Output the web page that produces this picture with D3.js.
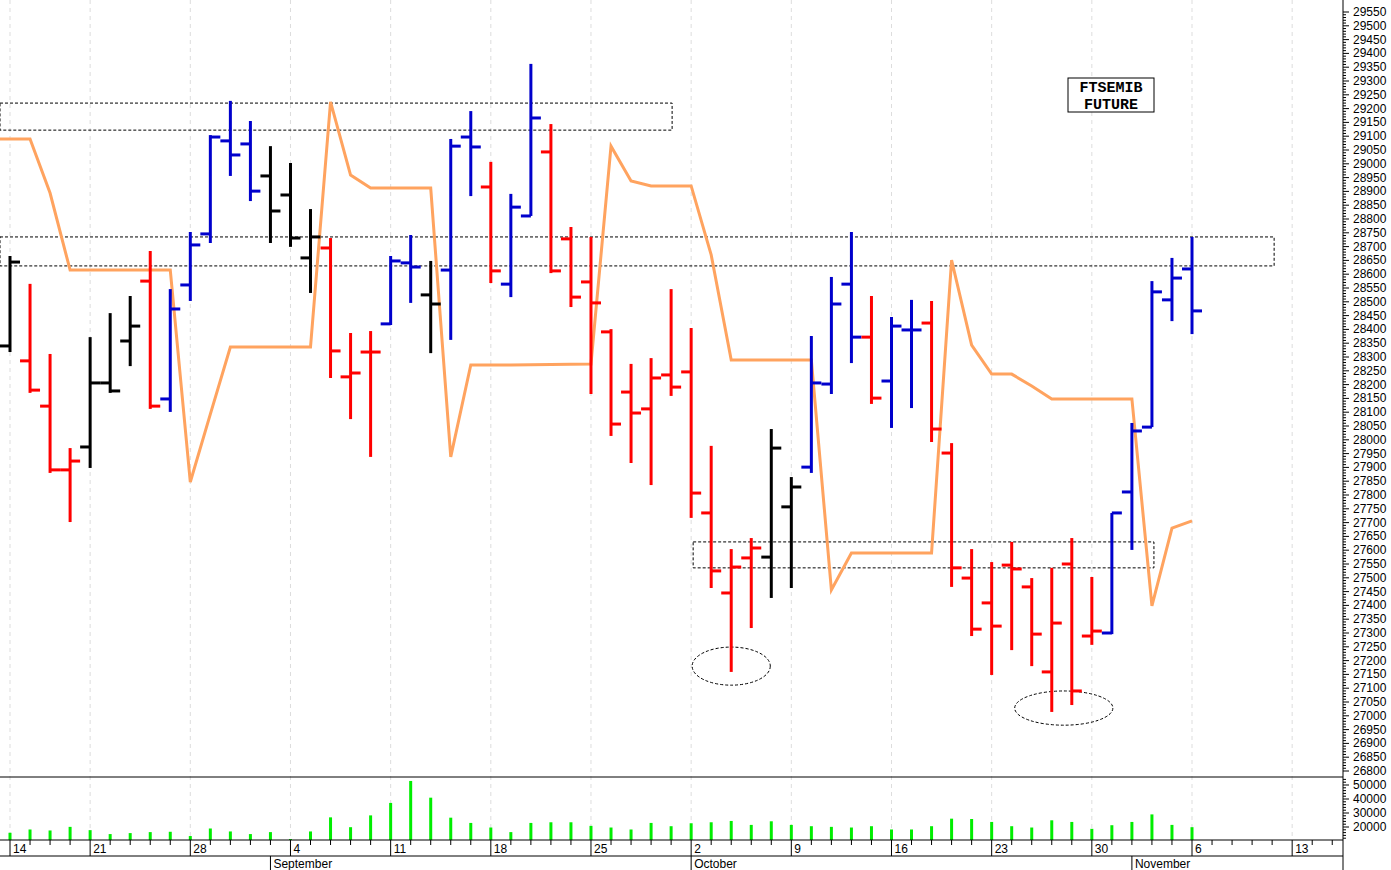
<!DOCTYPE html>
<html><head><meta charset="utf-8">
<script src="https://cdn.jsdelivr.net/npm/d3@7"></script>
<style>body{margin:0;background:#fff}svg{display:block}</style>
</head><body>
<script>
const dates=["2023-08-14","2023-08-16","2023-08-17","2023-08-18","2023-08-21","2023-08-22","2023-08-23","2023-08-24","2023-08-25","2023-08-28","2023-08-29","2023-08-30","2023-08-31","2023-09-01","2023-09-04","2023-09-05","2023-09-06","2023-09-07","2023-09-08","2023-09-11","2023-09-12","2023-09-13","2023-09-14","2023-09-15","2023-09-18","2023-09-19","2023-09-20","2023-09-21","2023-09-22","2023-09-25","2023-09-26","2023-09-27","2023-09-28","2023-09-29","2023-10-02","2023-10-03","2023-10-04","2023-10-05","2023-10-06","2023-10-09","2023-10-10","2023-10-11","2023-10-12","2023-10-13","2023-10-16","2023-10-17","2023-10-18","2023-10-19","2023-10-20","2023-10-23","2023-10-24","2023-10-25","2023-10-26","2023-10-27","2023-10-30","2023-10-31","2023-11-01","2023-11-02","2023-11-03","2023-11-06"];
const futureDates=["2023-11-07","2023-11-08","2023-11-09","2023-11-10","2023-11-13","2023-11-14","2023-11-15","2023-11-16"];
const open=[28340,28286,28122,27891,27974,28206,28358,28575,28148,28561,28746,29083,29072,28956,28887,28659,28695,28228,28318,28420,28641,28525,28615,29097,28916,28564,28811,29043,28728,28572,28391,28173,28112,28235,28246,27735,27445,27572,27575,27757,27901,28202,28564,28372,28213,28398,28423,27952,27499,27409,27546,27467,27159,27550,27289,27300,27811,28046,28507,28619];
const high=[28666,28565,28311,27970,28372,28459,28521,28684,28546,28753,29104,29228,29155,29064,29003,28836,28731,28387,28394,28666,28742,28648,29090,29191,29007,28891,29362,29144,28771,28735,28401,28275,28296,28546,28405,27978,27604,27644,28039,27865,28376,28590,28753,28521,28445,28507,28503,27988,27604,27557,27630,27499,27536,27644,27503,27735,28061,28575,28659,28735];
const low=[28318,28170,27880,27702,27898,28170,28267,28112,28101,28503,28713,28956,28865,28713,28699,28532,28224,28075,27938,28416,28496,28314,28362,28883,28568,28517,28811,28604,28481,28166,28014,27916,27836,28159,27717,27463,27159,27318,27427,27463,27880,28166,28278,28130,28043,28115,27992,27467,27289,27148,27238,27180,27014,27039,27257,27296,27601,28046,28430,28383];
const close=[28644,28180,27891,27923,28206,28177,28412,28122,28474,28706,29097,29032,28901,28829,28731,28735,28322,28242,28318,28648,28626,28492,29064,29061,28612,28843,29166,28612,28517,28496,28057,28097,28224,28191,27807,27525,27539,27608,27970,27829,28206,28492,28372,28151,28412,28398,28039,27536,27314,27325,27532,27296,27336,27090,27307,27735,28032,28536,28586,28467];
const signal=["n","d","d","d","n","n","n","d","u","u","u","u","u","n","n","n","d","d","d","u","u","n","u","u","d","u","u","d","d","d","d","d","d","d","d","d","d","d","n","n","u","u","u","d","u","u","d","d","d","d","d","d","d","d","d","u","u","u","u","u"];
const prevClose=28450; // partially visible bar before Aug 14
const prevStop=29090;
const stopLine=[29090,29090,28894,28615,28615,28615,28615,28615,28615,27847,28093,28336,28336,28336,28336,28336,29224,28959,28912,28912,28912,28912,27938,28271,28271,28271,28272,28273,28274,28275,29064,28938,28920,28920,28920,28670,28289,28289,28289,28289,28289,27456,27590,27590,27590,27590,27590,28651,28343,28238,28238,28195,28148,28148,28148,28148,28148,27398,27680,27706];
const volume=[15886,18228,17525,20102,17760,14949,15652,16354,16589,13544,18931,16823,14949,16354,11436,16823,26893,19867,28299,37198,52890,40945,26659,22912,19633,16354,22912,23380,23380,20804,19633,18228,22912,20570,22678,23380,24317,21507,24083,21507,20570,20102,19633,20570,18228,18228,20570,25957,25722,23615,20570,19633,24786,23615,18696,21273,23615,29001,21507,19867];
const priceTicks=d3.range(26800,29551,50);
const volumeTicks=[20000,30000,40000,50000];
const zones=[{from:-1,to:33.05,lo:29122,hi:29220},{from:-1,to:63.1,lo:28630,hi:28735},{from:34.1,to:57.1,lo:27536,hi:27630}];
const ellipses=[{at:36,price:27180,dx:1.95,dp:69},{at:52.6,price:27028,dp:62,dx:2.45}];
const title=["FTSEMIB","FUTURE"];

const W=1391,H=870,axisX=1343;
const colors={u:"#0000cc",d:"#ff0000",n:"#000000"};
const svg=d3.select("body").append("svg").attr("width",W).attr("height",H);
const allDates=dates.concat(futureDates);
const x=d3.scaleLinear().domain([0,59]).range([10,1192]);
const y=d3.scaleLinear().domain([26800,29550]).range([771,12]);
const yv=d3.scaleLinear().domain([10000,55000]).range([841,778]);
const parse=d3.timeParse("%Y-%m-%d");
const pd=allDates.map(parse);

pd.forEach((d,i)=>{ if(d.getDay()===1){ svg.append("line").attr("x1",x(i)).attr("x2",x(i)).attr("y1",0).attr("y2",840).attr("stroke","#ddd").attr("stroke-dasharray","4,4");}});

const zg=svg.append("g").attr("fill","none").attr("stroke","#000").attr("stroke-width",1).attr("stroke-dasharray","3,2");
zones.forEach(z=>zg.append("rect").attr("x",Math.max(0,x(z.from))).attr("y",y(z.hi)).attr("width",x(z.to)-Math.max(0,x(z.from))).attr("height",y(z.lo)-y(z.hi)));
ellipses.forEach(e=>zg.append("ellipse").attr("cx",x(e.at)).attr("cy",y(e.price)).attr("rx",x(e.dx)-x(0)).attr("ry",y(e.price-e.dp)-y(e.price)));

const stopPts=[[-1,prevStop]].concat(stopLine.map((v,i)=>[i,v]));
svg.append("path").datum(stopPts).attr("fill","none").attr("stroke","#ffa35f").attr("stroke-width",3)
 .attr("d",d3.line().x(d=>x(d[0])).y(d=>y(d[1])));

const bg=svg.append("g").attr("stroke-width",3);
bg.append("line").attr("stroke","#ff0000").attr("x1",x(-1)).attr("x2",x(-1)+10).attr("y1",y(prevClose)).attr("y2",y(prevClose));
dates.forEach((d,i)=>{
 const c=colors[signal[i]],g=bg.append("g").attr("stroke",c);
 g.append("line").attr("x1",x(i)).attr("x2",x(i)).attr("y1",y(high[i])).attr("y2",y(low[i]));
 g.append("line").attr("x1",x(i)-10).attr("x2",x(i)).attr("y1",y(open[i])).attr("y2",y(open[i]));
 g.append("line").attr("x1",x(i)).attr("x2",x(i)+10).attr("y1",y(close[i])).attr("y2",y(close[i]));
});

svg.append("g").selectAll("line").data(volume).join("line").attr("x1",(d,i)=>x(i)).attr("x2",(d,i)=>x(i))
 .attr("y1",d=>yv(d)).attr("y2",840).attr("stroke","#00ee00").attr("stroke-width",3);

svg.append("line").attr("x1",0).attr("x2",axisX).attr("y1",777).attr("y2",777).attr("stroke","#000");
svg.append("line").attr("x1",0).attr("x2",axisX).attr("y1",840).attr("y2",840).attr("stroke","#000");
svg.append("line").attr("x1",0).attr("x2",axisX).attr("y1",856).attr("y2",856).attr("stroke","#000");
svg.append("line").attr("x1",axisX).attr("x2",axisX).attr("y1",0).attr("y2",H).attr("stroke","#000");

const font="Liberation Sans, Arial, sans-serif";
d3.range(26800,29551,10).forEach(p=>svg.append("line").attr("x1",axisX).attr("x2",axisX+(p%50===0?6:3)).attr("y1",y(p)).attr("y2",y(p)).attr("stroke","#000"));
svg.append("g").selectAll("text").data(priceTicks).join("text").attr("x",1353).attr("y",d=>y(d)+4).text(d=>d)
 .attr("font-family",font).attr("font-size",12).attr("fill","#000");
d3.range(12000,55001,2000).forEach(v=>svg.append("line").attr("x1",axisX).attr("x2",axisX+(v%10000===0?6:3)).attr("y1",yv(v)).attr("y2",yv(v)).attr("stroke","#000"));
svg.append("g").selectAll("text").data(volumeTicks).join("text").attr("x",1353).attr("y",d=>yv(d)+4).text(d=>d)
 .attr("font-family",font).attr("font-size",12);

pd.forEach((d,i)=>{
 const xi=x(i);
 if(xi>axisX) return;
 const mon=d.getDay()===1;
 svg.append("line").attr("x1",xi).attr("x2",xi).attr("y1",840).attr("y2",mon?856:845).attr("stroke","#000");
 if(mon) svg.append("text").attr("x",xi+3).attr("y",853).text(d.getDate()).attr("font-family",font).attr("font-size",12);
 if(i>0 && d.getMonth()!==pd[i-1].getMonth()){
  svg.append("line").attr("x1",xi).attr("x2",xi).attr("y1",856).attr("y2",H).attr("stroke","#000");
  svg.append("text").attr("x",xi+3).attr("y",868).text(d3.timeFormat("%B")(d)).attr("font-family",font).attr("font-size",12);
 }
});

svg.append("rect").attr("x",1068).attr("y",78).attr("width",86).attr("height",34).attr("fill","#fff").attr("stroke","#000");
svg.append("g").selectAll("text").data(title).join("text").attr("x",1111).attr("y",(d,i)=>92+i*17).attr("text-anchor","middle")
 .text(d=>d).attr("font-family","Liberation Mono, Courier New, monospace").attr("font-weight","bold").attr("font-size",15);
</script>
</body></html>
